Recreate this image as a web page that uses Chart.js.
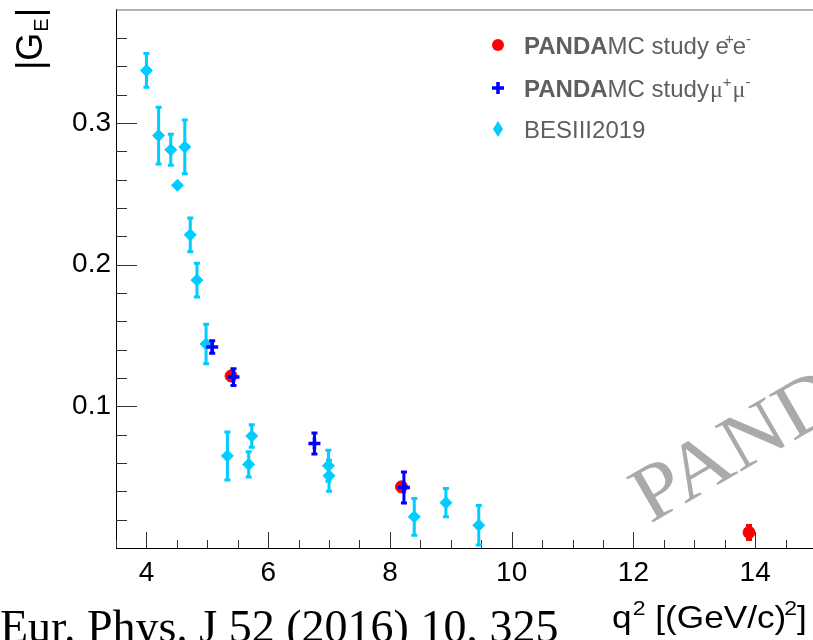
<!DOCTYPE html>
<html>
<head>
<meta charset="utf-8">
<script src="https://cdn.jsdelivr.net/npm/chart.js@4.4.0/dist/chart.umd.min.js"></script>
<style>
  html, body { margin: 0; padding: 0; background: #fff; overflow: hidden; }
  #wrap { width: 830px; height: 640px; }
</style>
</head>
<body>
<div id="wrap"><canvas id="geChart" width="830" height="640"></canvas></div>
<script>
// |G_E| vs q^2
const besQ2  = [4.00, 4.20, 4.40, 4.51, 4.63, 4.72, 4.83, 4.98, 5.33, 5.68, 5.73, 6.99, 7.00, 8.40, 8.92, 9.46];
const besGE  = [0.337, 0.291, 0.281, 0.256, 0.283, 0.221, 0.189, 0.144, 0.065, 0.059, 0.079, 0.058, 0.051, 0.022, 0.032, 0.016];
const besErr = [0.013, 0.021, 0.012, 0.000, 0.020, 0.013, 0.013, 0.015, 0.018, 0.010, 0.009, 0.012, 0.012, 0.014, 0.011, 0.015];

const eeQ2  = [5.39, 8.19, 13.90];
const eeGE  = [0.1214, 0.0432, 0.0110];
const eeErr = [0.004, 0.004, 0.006];

const mmQ2  = [5.08, 5.43, 6.76, 8.23];
const mmGE  = [0.1418, 0.1206, 0.0737, 0.0427];
const mmErr = [0.0055, 0.007, 0.0085, 0.012];

const xTickValues = [4, 6, 8, 10, 12, 14];
const yTickValues = [0.1, 0.2, 0.3];

const citation = 'Eur. Phys. J 52 (2016) 10, 325';
const watermark = 'PANDA';

const SANS = '"Liberation Sans", Arial, Helvetica, sans-serif';
const SERIF = '"Liberation Serif", "Times New Roman", serif';
const CYAN = '#00ccff';
const BLUE = '#0000ff';
const RED = '#ff0000';

function toPoints(xs, ys) {
    return xs.map((x, i) => ({ x: x, y: ys[i] }));
}

// draw a row of text pieces (font / raise) one after another
function drawRuns(ctx, x, y, runs) {
    for (const r of runs) {
        ctx.font = r.font;
        ctx.fillText(r.text, x + (r.pre || 0), y + (r.dy || 0));
        x += (r.pre || 0) + ctx.measureText(r.text).width + (r.post || 0);
    }
    return x;
}

// vertical error bars with small caps, drawn under each dataset's markers
const errorBars = {
    id: 'errorBars',
    beforeDatasetDraw(chart, args) {
        const ds = chart.data.datasets[args.index];
        if (!ds.errors) return;
        const ctx = chart.ctx, xs = chart.scales.x, ys = chart.scales.y;
        const area = chart.chartArea;
        ctx.save();
        ctx.strokeStyle = ds.borderColor;
        ctx.lineWidth = 3;
        ds.data.forEach((p, i) => {
            const e = ds.errors[i];
            if (!e) return;
            const px = xs.getPixelForValue(p.x);
            const top = Math.max(ys.getPixelForValue(p.y + e), area.top);
            const bot = Math.min(ys.getPixelForValue(p.y - e), area.bottom);
            ctx.beginPath();
            ctx.moveTo(px, top);
            ctx.lineTo(px, bot);
            ctx.moveTo(px - 3, top + 1.5);
            ctx.lineTo(px + 3, top + 1.5);
            if (bot < area.bottom - 1) {
                ctx.moveTo(px - 3, bot - 1.5);
                ctx.lineTo(px + 3, bot - 1.5);
            }
            ctx.stroke();
        });
        ctx.restore();
    }
};

// frame top line, inward ticks, watermark
const frameDecor = {
    id: 'frameDecor',
    beforeDatasetsDraw(chart) {
        const ctx = chart.ctx, xs = chart.scales.x, ys = chart.scales.y;
        const a = chart.chartArea;
        ctx.save();

        // watermark
        ctx.save();
        ctx.translate(650, 524);
        ctx.rotate(-30 * Math.PI / 180);
        ctx.scale(1.08, 1);
        ctx.font = '80px ' + SERIF;
        ctx.fillStyle = '#aaaaaa';
        ctx.fillText(watermark, 0, 0);
        ctx.restore();

        ctx.strokeStyle = '#666666';
        ctx.lineWidth = 1;
        ctx.beginPath();
        ctx.moveTo(a.left, a.top + 0.5);
        ctx.lineTo(a.right, a.top + 0.5);
        ctx.stroke();

        ctx.strokeStyle = '#333333';
        ctx.beginPath();
        for (let v = 3.5; v <= xs.max + 1e-6; v += 0.5) {
            const px = Math.round(xs.getPixelForValue(v)) + 0.5;
            const len = xTickValues.includes(v) ? 16 : 8;
            ctx.moveTo(px, a.bottom);
            ctx.lineTo(px, a.bottom - len);
        }
        for (let k = 1; k * 0.02 < ys.max; k++) {
            const v = k * 0.02;
            const py = Math.round(ys.getPixelForValue(v)) + 0.5;
            const len = (k % 5 === 0) ? 21 : 11;
            ctx.moveTo(a.left, py);
            ctx.lineTo(a.left + len, py);
        }
        ctx.stroke();
        ctx.restore();
    }
};

// legend, axis titles, citation
const annotations = {
    id: 'annotations',
    afterDraw(chart) {
        const ctx = chart.ctx;
        ctx.save();
        ctx.textBaseline = 'alphabetic';

        // legend markers
        const mx = 498;
        ctx.fillStyle = RED;
        ctx.beginPath();
        ctx.arc(mx, 45, 6, 0, Math.PI * 2);
        ctx.fill();

        ctx.strokeStyle = BLUE;
        ctx.lineWidth = 3.5;
        ctx.beginPath();
        ctx.moveTo(mx - 6, 88); ctx.lineTo(mx + 6, 88);
        ctx.moveTo(mx, 82); ctx.lineTo(mx, 94);
        ctx.stroke();

        ctx.fillStyle = CYAN;
        ctx.beginPath();
        ctx.moveTo(mx, 121); ctx.lineTo(mx + 5, 129);
        ctx.lineTo(mx, 137); ctx.lineTo(mx - 5, 129);
        ctx.closePath();
        ctx.fill();

        // legend texts
        const reg = '24px ' + SANS, bold = 'bold 24px ' + SANS, sup = '15px ' + SANS;
        const mu = '24px ' + SERIF;
        ctx.fillStyle = '#5f5f5f';
        drawRuns(ctx, 524, 54, [
            { text: 'PANDA', font: bold },
            { text: 'MC study ', font: reg },
            { text: 'e', font: reg, post: -4 },
            { text: '+', font: sup, dy: -10, post: -1 },
            { text: 'e', font: reg, post: 0 },
            { text: '-', font: sup, dy: -10 }
        ]);
        drawRuns(ctx, 524, 97, [
            { text: 'PANDA', font: bold },
            { text: 'MC study', font: reg, post: 1 },
            { text: 'μ', font: mu },
            { text: '+', font: sup, dy: -10, post: 1 },
            { text: 'μ', font: mu },
            { text: '-', font: sup, dy: -10 }
        ]);
        drawRuns(ctx, 524, 138, [
            { text: 'BESIII2019', font: reg }
        ]);

        // y title |G_E|, rotated
        ctx.fillStyle = '#000000';
        ctx.save();
        ctx.translate(42, 70);
        ctx.rotate(-Math.PI / 2);
        drawRuns(ctx, 0, 0, [
            { text: '|G', font: '36px ' + SANS },
            { text: 'E', font: '20px ' + SANS, dy: 6, pre: 1, post: 1 },
            { text: '|', font: '36px ' + SANS }
        ]);
        ctx.restore();

        // x title q^2 [(GeV/c)^2]
        ctx.save();
        ctx.translate(612, 628);
        ctx.scale(1.1, 1);
        drawRuns(ctx, 0, 0, [
            { text: 'q', font: '32px ' + SANS, post: 1 },
            { text: '2', font: '21px ' + SANS, dy: -13 },
            { text: ' [(GeV/c)', font: '32px ' + SANS },
            { text: '2', font: '21px ' + SANS, dy: -13, pre: -2 },
            { text: ']', font: '32px ' + SANS }
        ]);
        ctx.restore();

        // citation
        ctx.font = '46px ' + SERIF;
        ctx.fillText(citation, 0, 642);
        ctx.restore();
    }
};

new Chart(document.getElementById('geChart'), {
    type: 'scatter',
    data: {
        datasets: [
            {
                label: 'PANDA MC study mu+mu-',
                data: toPoints(mmQ2, mmGE),
                errors: mmErr,
                pointStyle: 'cross',
                pointRadius: 6,
                borderWidth: 3.5,
                borderColor: BLUE,
                backgroundColor: BLUE
            },
            {
                label: 'PANDA MC study e+e-',
                data: toPoints(eeQ2, eeGE),
                errors: eeErr,
                pointStyle: 'circle',
                pointRadius: 6,
                borderWidth: 1,
                borderColor: RED,
                backgroundColor: RED
            },
            {
                label: 'BESIII2019',
                data: toPoints(besQ2, besGE),
                errors: besErr,
                pointStyle: 'rectRot',
                pointRadius: 6,
                borderWidth: 1,
                borderColor: CYAN,
                backgroundColor: CYAN
            }
        ]
    },
    options: {
        responsive: false,
        animation: false,
        events: [],
        layout: { padding: { top: 9, right: 14, left: 0, bottom: 0 } },
        plugins: {
            legend: { display: false },
            tooltip: { enabled: false }
        },
        scales: {
            x: {
                type: 'linear',
                min: 3.5,
                max: 15,
                afterBuildTicks: s => { s.ticks = xTickValues.map(v => ({ value: v })); },
                afterFit: s => { s.height = 92; s.paddingLeft = 0; s.paddingRight = 0; },
                grid: { drawOnChartArea: false, drawTicks: false },
                border: { color: '#000000', width: 1 },
                ticks: {
                    padding: 8,
                    color: '#000000',
                    font: { family: SANS, size: 28 },
                    maxRotation: 0,
                    autoSkip: false,
                    callback: v => String(v)
                }
            },
            y: {
                type: 'linear',
                min: 0,
                max: 0.38,
                afterBuildTicks: s => { s.ticks = yTickValues.map(v => ({ value: v })); },
                afterFit: s => { s.width = 116; s.paddingTop = 0; s.paddingBottom = 0; },
                grid: { drawOnChartArea: false, drawTicks: false },
                border: { color: '#000000', width: 1 },
                ticks: {
                    padding: 5,
                    color: '#000000',
                    font: { family: SANS, size: 28 },
                    autoSkip: false,
                    callback: v => v.toFixed(1)
                }
            }
        }
    },
    plugins: [frameDecor, errorBars, annotations]
});
</script>
</body>
</html>
